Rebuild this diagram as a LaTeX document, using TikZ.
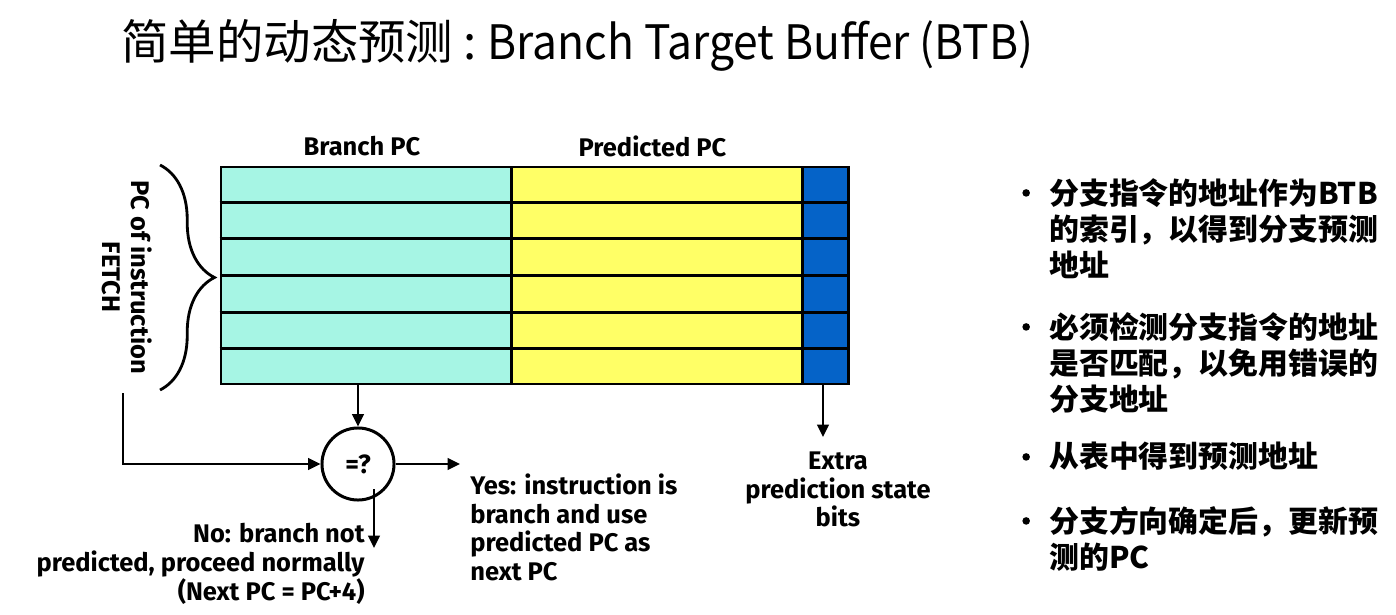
\documentclass[tikz,border=0pt]{standalone}
\usepackage{fontspec}
\usepackage{graphicx}
\setmainfont{Fira Sans}
\newfontfamily\cjk{Noto Sans CJK SC}
\usetikzlibrary{positioning, arrows.meta, calc, fit, decorations.pathreplacing}

\definecolor{turquesa}{RGB}{166,245,228}
\definecolor{amarillo}{RGB}{255,255,102}
\definecolor{azulbits}{RGB}{5,99,200}

\begin{document}
\begin{tikzpicture}[
		x=0.02cm, y=-0.02cm,
		% Estilos de la tabla
		columna/.style={inner sep=0pt, draw=black, line width=1.7pt},
		comparador/.style={draw=black, line width=1.7pt, circle, minimum size=41pt, inner sep=0pt, font=\bfseries\fontsize{15}{16}\selectfont},
		% Estilo de flechas y etiquetas
		flecha/.style={-{Triangle[length=7pt, width=6.5pt]}, line width=1.4pt},
		etiqueta/.style={font=\bfseries\fontsize{14.5}{16.5}\selectfont, align=center, inner sep=0pt},
		vineta/.style={font=\cjk\bfseries\fontsize{17}{20.5}\selectfont, align=left, anchor=north west, inner sep=0pt}
		]
		\useasboundingbox (0,0) rectangle (1396,615);
		
		% --- TITULO ---
		\node[anchor=west, inner sep=0pt, font=\cjk\fontsize{27}{30}\selectfont] (titulo) at (121,45)
		{简单的动态预测\hspace{6pt}:\hspace{6pt}\scalebox{0.935}[1]{Branch Target Buffer (BTB)}};
		
		% --- TABLA BTB ---
		\node[columna, fit={(221,167) (511,384)}, fill=turquesa] (rama) {};
		\node[columna, fit={(511,167) (802,384)}, fill=amarillo] (pred) {};
		\node[columna, fit={(802,167) (848,384)}, fill=azulbits] (extra) {};
		\foreach \i in {1,...,5}
		\draw[line width=1.7pt] ($(rama.north west)!\i/6!(rama.south west)$) -- ($(extra.north east)!\i/6!(extra.south east)$);
		
		\node[etiqueta] at ($(rama.north)+(-4,-19)$) {Branch PC};
		\node[etiqueta] at ($(pred.north)+(-4,-19)$) {Predicted PC};
		
		% Llave del PC de FETCH
		\draw[line width=1.6pt, decorate, decoration={brace, amplitude=31pt}] (160,165) -- (160,390);
		\node[etiqueta, rotate=-90] (fetch) at (127,277) {PC of instruction\\FETCH};
		\coordinate (pcfetch) at (123,393);
		
		% --- COMPARADOR ---
		\node[comparador] (cmp) at (358,464) {=?};
		\coordinate (finsi) at (460,464);
		\coordinate (finno) at (374,548);
		\coordinate (inino) at (374,489);
		\coordinate (finextra) at (823,437);
		
		\draw[flecha] (cmp |- rama.south) -- (cmp.north);
		\draw[flecha] (pcfetch) |- (cmp.west);
		\draw[flecha] (cmp.east) -- (finsi);
		\draw[flecha] (inino) -- (finno);
		\draw[flecha] (finextra |- extra.south) -- (finextra);
		
		% Etiquetas de salida
		\node[etiqueta, align=left, anchor=north west] (si) at (470,473) {Yes: instruction is\\branch and use\\predicted PC as\\next PC};
		\node[etiqueta, align=right, anchor=north east] (no) at (365,523) {No: branch not\\predicted, proceed normally\\(Next PC = PC+4)};
		\node[etiqueta, anchor=north] (bits) at (838,451) {Extra\\prediction state\\bits};
		
		% --- VINETAS ---
		\node[vineta] (v1) at (1049,178) {分支指令的地址作为BTB\\的索引，以得到分支预测\\地址};
		\node[vineta] (v2) at (1049,312) {必须检测分支指令的地址\\是否匹配，以免用错误的\\分支地址};
		\node[vineta] (v3) at (1049,442) {从表中得到预测地址};
		\node[vineta] (v4) at (1049,506) {分支方向确定后，更新预\\测的PC};
		\foreach \v in {v1,v2,v3,v4}
		\fill ([xshift=-13pt, yshift=-8.5pt]\v.north west) circle (3.8);
		
\end{tikzpicture}
\end{document}
